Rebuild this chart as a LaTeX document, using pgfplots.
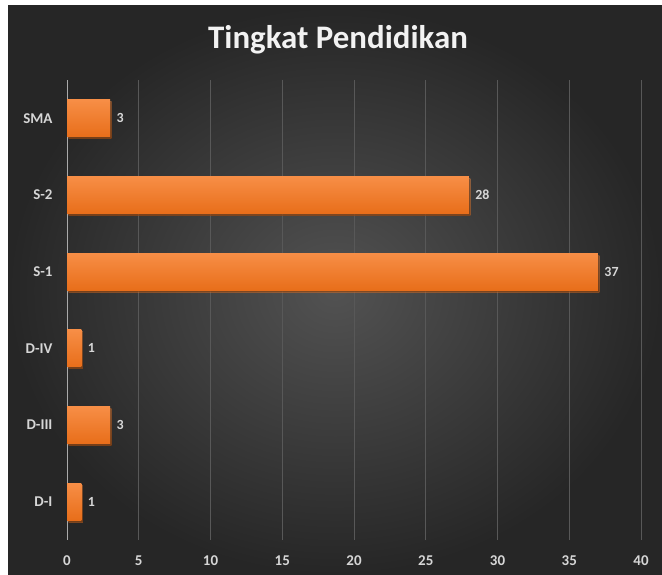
\documentclass[border=0pt]{standalone}
\usepackage{pgfplots}
\pgfplotsset{compat=1.18}
\usepackage{fontspec}
\setmainfont{Carlito}
\definecolor{bgin}{RGB}{82,82,82}
\definecolor{bgout}{RGB}{38,38,38}
\definecolor{bartop}{RGB}{247,142,70}
\definecolor{barbot}{RGB}{232,110,26}
\definecolor{lbl}{RGB}{214,214,214}
\definecolor{gridc}{RGB}{88,88,88}
\definecolor{axc}{RGB}{170,170,170}
\definecolor{titc}{RGB}{242,242,242}
\begin{document}
\begin{tikzpicture}
\fill[white] (0,0) rectangle (662bp,575bp);
\shade[inner color=bgin, outer color=bgout] (8bp,0) rectangle (662bp,569bp);
\node[anchor=base, text=titc, font=\bfseries\fontsize{33}{33}\selectfont] at (338bp,526bp) {Tingkat Pendidikan};
\begin{axis}[
  at={(67bp,35bp)}, anchor=south west, scale only axis,
  width=574bp, height=460bp,
  xmin=0, xmax=40, ymin=-0.5, ymax=5.5,
  xbar, bar width=37bp, bar shift=0pt,
  ytick={0,1,2,3,4,5},
  yticklabels={D-I,D-III,D-IV,S-1,S-2,SMA},
  xtick={0,5,...,40},
  axis line style={draw=none},
  major tick length=0pt,
  xmajorgrids, grid style={gridc, line width=0.7bp},
  tick label style={lbl, font=\bfseries\fontsize{15}{15}\selectfont},
  /pgf/number format/assume math mode=true,
  xticklabel style={anchor=center, yshift=-21bp},
  yticklabel style={anchor=east, xshift=-11bp},
  nodes near coords,
  nodes near coords style={lbl, font=\bfseries\fontsize{14}{14}\selectfont, xshift=3bp},
  every axis plot/.append style={draw=none, top color=bartop, bottom color=barbot,
    preaction={fill=black, opacity=0.45, transform canvas={xshift=1.5bp, yshift=-2bp}}},
]
\draw[axc, line width=1.2bp] (axis cs:0,-0.5) -- (axis cs:0,5.5);
\addplot coordinates {(1,0)};
\addplot coordinates {(3,1)};
\addplot coordinates {(1,2)};
\addplot coordinates {(37,3)};
\addplot coordinates {(28,4)};
\addplot coordinates {(3,5)};
\end{axis}
\end{tikzpicture}
\end{document}
